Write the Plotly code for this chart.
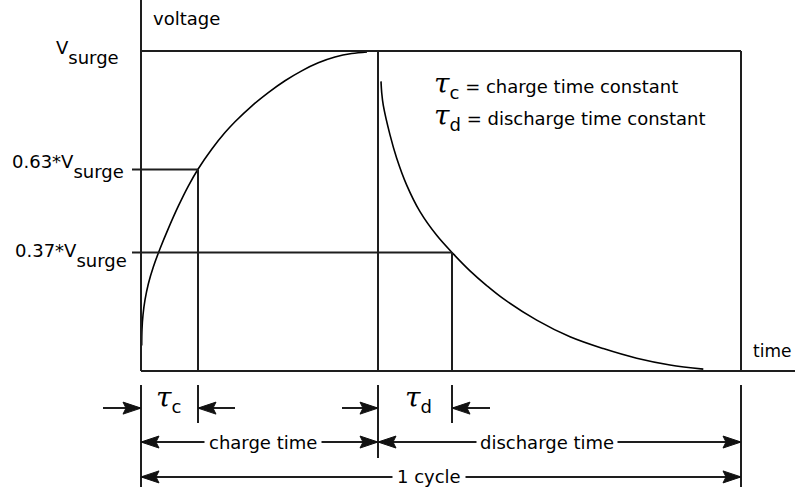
import plotly.graph_objects as go

# ---------------- data ----------------
# time in arbitrary units (charge starts at 0), voltage as a fraction of V_surge
tau_c = 57          # charge time constant
charge_end = 237    # end of charge time
tau_d = 74          # discharge time constant (measured from charge_end)
cycle_end = 600     # end of one cycle
time_axis_end = 654

levels = [1.0, 0.63, 0.37]
level_names = ["V", "0.63*V", "0.37*V"]
level_sub = "surge"

charge_t = [0.7, 1.0, 2.0, 4.0, 7.3, 12.3, 19, 27.3, 37.3, 47.3, 57.3, 70.7, 84, 94,
            110.7, 127.3, 144, 160.7, 177.3, 194, 210.7, 226]
charge_v = [0.08, 0.13, 0.175, 0.222, 0.272, 0.325, 0.382, 0.445, 0.515, 0.578, 0.632,
            0.693, 0.745, 0.779, 0.828, 0.870, 0.907, 0.938, 0.963, 0.981, 0.992, 0.997]

discharge_t = [240.0, 240.7, 242.3, 249, 255.7, 265.7, 279, 295.7, 312.3, 329, 345.7,
               362.3, 395.7, 429, 462.3, 495.7, 529, 562.3]
discharge_v = [0.905, 0.87, 0.83, 0.738, 0.665, 0.581, 0.498, 0.424, 0.366, 0.313,
               0.267, 0.226, 0.159, 0.107, 0.070, 0.040, 0.019, 0.006]

legend_lines = [("c", "charge time constant"), ("d", "discharge time constant")]
span_labels = ["charge time", "discharge time", "1 cycle"]

# ---------------- layout geometry (in axis units) ----------------
W, H = 795, 487
X_MIN, X_MAX = -141, 654
Y_MIN, Y_MAX = -0.3625, 1.159375
PX_V = 1 / 320.0          # one screen pixel in voltage units

LINE = dict(color="#1e1e1e", width=2)
FONT = dict(family="DejaVu Sans", size=18, color="black")
TAU = "<span style='font-family:DejaVu Serif;font-size:28px;font-style:italic'>τ</span>"

dim_top = -0.044
short_bot = -0.1625
mid_bot = -0.272
row1, row2, row3 = -0.116, -0.222, -0.331
tick_left = -9
head_len, head_half = 18, 6 * PX_V

fig = go.Figure()
fig.add_trace(go.Scatter(x=charge_t, y=charge_v, mode="lines",
                         line=dict(color="black", width=1.6, shape="spline"),
                         hoverinfo="skip"))
fig.add_trace(go.Scatter(x=discharge_t, y=discharge_v, mode="lines",
                         line=dict(color="black", width=1.6, shape="spline"),
                         hoverinfo="skip"))

shapes = []


def seg(x0, y0, x1, y1):
    shapes.append(dict(type="line", xref="x", yref="y", x0=x0, y0=y0, x1=x1, y1=y1,
                       line=LINE, layer="above"))


def head(xt, yt, d):
    b = xt - d * head_len
    shapes.append(dict(type="path", xref="x", yref="y",
                       path=f"M{xt},{yt} L{b},{yt + head_half} L{b + d * 3},{yt} L{b},{yt - head_half} Z",
                       fillcolor="#111", line=dict(color="#111", width=1), layer="above"))


# frame
seg(0, 0, 0, Y_MAX)
seg(0, 0, time_axis_end, 0)
seg(0, levels[0], cycle_end, levels[0])
seg(cycle_end, 0, cycle_end, levels[0])
seg(tick_left, levels[1], tau_c, levels[1])
seg(tick_left, levels[2], charge_end + tau_d, levels[2])
seg(tau_c, 0, tau_c, levels[1])
seg(charge_end, 0, charge_end, levels[0])
seg(charge_end + tau_d, 0, charge_end + tau_d, levels[2])

# extension lines below the axis
seg(0, dim_top, 0, Y_MIN)
seg(tau_c, dim_top, tau_c, short_bot)
seg(charge_end, dim_top, charge_end, mid_bot)
seg(charge_end + tau_d, dim_top, charge_end + tau_d, short_bot)
seg(cycle_end, dim_top, cycle_end, Y_MIN)

# row 1: time-constant markers
seg(-38, row1, 0, row1); head(0, row1, 1)
seg(tau_c, row1, tau_c + 37, row1); head(tau_c, row1, -1)
seg(charge_end - 36, row1, charge_end, row1); head(charge_end, row1, 1)
seg(charge_end + tau_d, row1, charge_end + tau_d + 38, row1); head(charge_end + tau_d, row1, -1)

# row 2 / row 3: spans
for (a, b, yy) in [(0, charge_end, row2), (charge_end, cycle_end, row2), (0, cycle_end, row3)]:
    seg(a, yy, b, yy)
    head(a, yy, -1)
    head(b, yy, 1)

ann = []


def text(x, y, s, xa="left", ya="middle", bg=None, pad=0, size=None):
    f = dict(FONT)
    if size:
        f["size"] = size
    d = dict(x=x, y=y, xref="x", yref="y", text=s, showarrow=False, xanchor=xa,
             yanchor=ya, font=f, borderpad=pad)
    if bg:
        d["bgcolor"] = bg
    ann.append(d)


text(11, 1.103, "voltage")
text(651, 0.0625, "time", xa="right", size=17)
sub_fmt = "{}<span style='baseline-shift:-10px'>{}</span>"
text(-21, 1.0 - 0.005, sub_fmt.format(level_names[0], level_sub), xa="right")
text(-16, 0.63 + 0.01, sub_fmt.format(level_names[1], level_sub), xa="right")
text(-13, 0.37 - 0.01, sub_fmt.format(level_names[2], level_sub), xa="right")

for i, (s, desc) in enumerate(legend_lines):
    text(292, 0.893 - i * 0.098,
         TAU + f"<span style='baseline-shift:-6px'>{s}</span> = {desc}")

text(14, row1 + 0.03, TAU + "<span style='baseline-shift:-6px'>c</span>")
text(charge_end + 26, row1 + 0.03, TAU + "<span style='baseline-shift:-6px'>d</span>")

text(122, row2, span_labels[0], xa="center", bg="white", pad=4)
text(406, row2, span_labels[1], xa="center", bg="white", pad=3)
text(288, row3, span_labels[2], xa="center", bg="white", pad=4)

fig.update_layout(
    width=W, height=H, margin=dict(l=0, r=0, t=0, b=0),
    paper_bgcolor="white", plot_bgcolor="white", showlegend=False,
    xaxis=dict(range=[X_MIN, X_MAX], visible=False, fixedrange=True),
    yaxis=dict(range=[Y_MIN, Y_MAX], visible=False, fixedrange=True),
    shapes=shapes, annotations=ann,
)
fig.write_html(
    "out.html",
    config={"displayModeBar": False},
    post_script="document.body.style.margin='0';document.body.style.overflow='hidden';",
)
